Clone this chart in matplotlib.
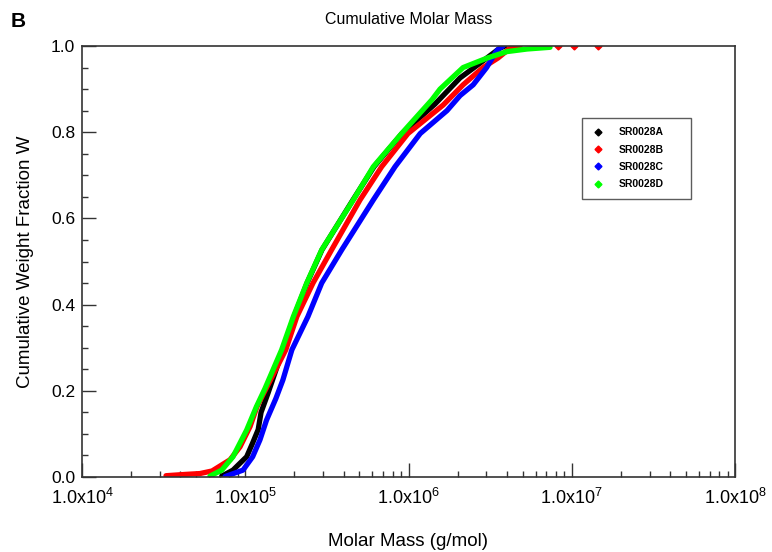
import matplotlib
matplotlib.use('Agg')
import matplotlib.pyplot as plt
from matplotlib.lines import Line2D
from matplotlib.ticker import LogLocator, MultipleLocator, FixedLocator, NullFormatter

plt.rcParams['font.family'] = ['Liberation Sans', 'DejaVu Sans']
plt.rcParams['mathtext.fontset'] = 'custom'
plt.rcParams['mathtext.rm'] = 'Liberation Sans'
plt.rcParams['mathtext.it'] = 'Liberation Sans'

# cumulative molar mass distributions (g/mol vs weight fraction)
mass_a = [7.18e4, 8.41e4, 1.02e5, 1.11e5, 1.20e5, 1.25e5, 1.38e5, 1.70e5, 1.99e5, 2.39e5,
          2.95e5, 4.57e5, 6.15e5, 9.12e5, 1.45e6, 2.07e6, 2.74e6, 3.63e6, 3.90e6]
frac_a = [0.002, 0.016, 0.047, 0.079, 0.110, 0.150, 0.195, 0.295, 0.372, 0.450,
          0.527, 0.643, 0.720, 0.797, 0.865, 0.926, 0.960, 0.995, 1.000]

mass_b = [3.27e4, 4.28e4, 5.28e4, 6.26e4, 8.07e4, 9.29e4, 1.07e5, 1.18e5, 1.30e5, 1.77e5,
          2.07e5, 2.60e5, 3.38e5, 5.05e5, 6.85e5, 9.93e5, 1.63e6, 2.16e6, 2.86e6, 3.53e6,
          4.19e6, 4.82e6]
frac_b = [0.003, 0.006, 0.008, 0.014, 0.040, 0.070, 0.117, 0.163, 0.195, 0.295,
          0.372, 0.450, 0.527, 0.643, 0.720, 0.797, 0.863, 0.910, 0.950, 0.972,
          0.995, 1.000]
# isolated high-mass points of SR0028B
mass_b_out = [8.24e6, 1.03e7, 1.45e7]
frac_b_out = [0.999, 0.999, 0.999]

mass_c = [7.52e4, 9.69e4, 1.11e5, 1.23e5, 1.35e5, 1.54e5, 1.70e5, 1.93e5, 2.42e5, 2.94e5,
          3.90e5, 6.09e5, 8.27e5, 1.18e6, 1.72e6, 2.07e6, 2.49e6, 3.01e6, 3.48e6, 3.79e6]
frac_c = [0.001, 0.016, 0.047, 0.086, 0.132, 0.182, 0.225, 0.295, 0.372, 0.450,
          0.527, 0.643, 0.720, 0.797, 0.850, 0.885, 0.910, 0.950, 0.990, 1.000]

mass_d = [6.08e4, 7.18e4, 8.41e4, 1.02e5, 1.17e5, 1.32e5, 1.67e5, 1.97e5, 2.38e5, 2.94e5,
          4.59e5, 6.09e5, 9.08e5, 1.39e6, 1.56e6, 2.16e6, 3.03e6, 4.01e6, 5.32e6, 7.36e6]
frac_d = [0.002, 0.016, 0.047, 0.109, 0.163, 0.205, 0.295, 0.372, 0.450, 0.527,
          0.643, 0.720, 0.797, 0.875, 0.900, 0.950, 0.972, 0.987, 0.993, 0.997]

labels = ['SR0028A', 'SR0028B', 'SR0028C', 'SR0028D']
colors = ['#000000', '#ff0000', '#0000ff', '#00ff00']
x_ticks = [1e4, 1e5, 1e6, 1e7, 1e8]
x_ticklabels = ['1.0x10$^{4}$', '1.0x10$^{5}$', '1.0x10$^{6}$', '1.0x10$^{7}$', '1.0x10$^{8}$']

fig = plt.figure(figsize=(7.72, 5.52), dpi=100)
ax = fig.add_axes([82 / 772, 1 - 477 / 552, 653 / 772, 431 / 552])

series = [(mass_a, frac_a), (mass_b, frac_b), (mass_c, frac_c), (mass_d, frac_d)]
for (m, w), c in zip(series, colors):
    ax.plot(m, w, color=c, lw=3.8, solid_capstyle='round', solid_joinstyle='round')
ax.plot(mass_b_out, frac_b_out, ls='none', marker='D', ms=3.5, color=colors[1])

ax.set_xscale('log')
ax.set_xlim(1e4, 1e8)
ax.set_ylim(0, 1.0)
ax.xaxis.set_major_locator(FixedLocator(x_ticks))
ax.set_xticklabels(x_ticklabels)
ax.xaxis.set_minor_locator(LogLocator(base=10, subs=range(2, 10), numticks=20))
ax.xaxis.set_minor_formatter(NullFormatter())
ax.yaxis.set_major_locator(MultipleLocator(0.2))
ax.yaxis.set_minor_locator(MultipleLocator(0.05))
ax.yaxis.set_major_formatter(plt.FormatStrFormatter('%.1f'))

ax.tick_params(which='both', direction='in', color='#333333', width=1.0)
ax.tick_params(which='major', length=10, labelsize=12.5)
ax.tick_params(which='minor', length=4)
ax.tick_params(axis='x', which='major', labelsize=13, pad=8)
ax.tick_params(axis='y', which='major', pad=5)
for s in ax.spines.values():
    s.set_color('#333333')
    s.set_linewidth(1.2)

ax.set_xlabel('Molar Mass (g/mol)', fontsize=13.5, labelpad=18)
ax.set_ylabel('Cumulative Weight Fraction W', fontsize=13.5, labelpad=12)
ax.set_title('Cumulative Molar Mass', fontsize=11.5, pad=16)
fig.text(0.014, 1 - 27 / 552, 'B', fontsize=15, fontweight='bold')

handles = [Line2D([], [], ls='none', marker='D', ms=3.5, color=c) for c in colors]
leg = ax.legend(handles, labels, loc='upper left', bbox_to_anchor=(0.766, 0.643, 0.166, 0.19),
                mode='expand', borderaxespad=0, fancybox=False, frameon=True,
                handlelength=1.2, handletextpad=1.4, labelspacing=0.7, borderpad=0.9,
                prop={'size': 7.5, 'weight': 'bold'})
leg.get_frame().set_edgecolor('#333333')
leg.get_frame().set_linewidth(1.0)

fig.savefig('out.png', dpi=100)
